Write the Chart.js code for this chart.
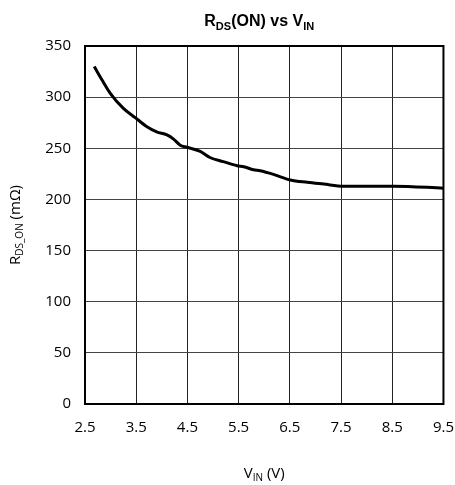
<!DOCTYPE html>
<html>
<head>
<meta charset="utf-8">
<script src="https://cdn.jsdelivr.net/npm/chart.js@4/dist/chart.umd.min.js"></script>
<style>
  html, body { margin: 0; padding: 0; background: #fff; }
  #wrap { width: 455px; height: 485px; }
</style>
</head>
<body>
<div id="wrap"><canvas id="rdsChart"></canvas></div>
<script>
// data
const vin = [2.68, 2.83, 2.99, 3.25, 3.48, 3.71, 3.9, 4.1, 4.23, 4.36, 4.49, 4.75, 4.94, 5.2, 5.47, 5.6, 5.79, 5.92, 6.18, 6.51, 6.84, 7.16, 7.55, 8.14, 8.53, 9.5];
const rds = [330, 317, 304, 289, 280, 271, 266, 263, 259, 253, 251, 247, 241, 237, 233, 232, 229, 228, 224.5, 219, 216.7, 215, 213, 213, 213, 211];
const xTicks = [2.5, 3.5, 4.5, 5.5, 6.5, 7.5, 8.5, 9.5];
const yTicks = [0, 50, 100, 150, 200, 250, 300, 350];

const tickFont = { family: 'Open Sans', size: 15 };

// draws text with subscript runs, parts = [[text, isSub], ...]
function drawRich(ctx, parts, x, y, font, subFont, subDrop) {
    let total = 0;
    parts.forEach(([t, sub]) => {
        ctx.font = sub ? subFont : font;
        total += ctx.measureText(t).width;
    });
    let cx = x - total / 2;
    ctx.textAlign = 'left';
    ctx.textBaseline = 'alphabetic';
    parts.forEach(([t, sub]) => {
        ctx.font = sub ? subFont : font;
        ctx.fillText(t, cx, sub ? y + subDrop : y);
        cx += ctx.measureText(t).width;
    });
}

const decorations = {
    id: 'decorations',
    afterDraw(chart) {
        const { ctx, chartArea: a } = chart;
        ctx.save();
        ctx.fillStyle = '#000';
        // plot frame
        ctx.strokeStyle = '#000';
        ctx.lineWidth = 2;
        ctx.strokeRect(a.left, a.top, a.right - a.left, a.bottom - a.top);

        const midX = (a.left + a.right) / 2;
        drawRich(ctx, [['R', 0], ['DS', 1], ['(ON) vs V', 0], ['IN', 1]], midX - 5, 26,
            'bold 16px "Liberation Sans", Arial', 'bold 11px "Liberation Sans", Arial', 4);

        drawRich(ctx, [['V', 0], ['IN', 1], [' (V)', 0]], midX, 478,
            '15px "Open Sans"', '10px "Open Sans"', 3);

        ctx.translate(20, (a.top + a.bottom) / 2);
        ctx.rotate(-Math.PI / 2);
        drawRich(ctx, [['R', 0], ['DS_ON', 1], [' (m\u03A9)', 0]], 0, 0,
            '15px "Open Sans"', '10px "Open Sans"', 3);
        ctx.restore();
    }
};

new Chart(document.getElementById('rdsChart'), {
    type: 'line',
    data: {
        datasets: [{
            data: vin.map((v, i) => ({ x: v, y: rds[i] })),
            borderColor: '#000',
            borderWidth: 3,
            pointRadius: 0,
            cubicInterpolationMode: 'monotone',
            fill: false
        }]
    },
    options: {
        responsive: true,
        maintainAspectRatio: false,
        animation: false,
        layout: { padding: { top: 46, right: 0, left: 0, bottom: 0 } },
        plugins: { legend: { display: false }, tooltip: { enabled: false } },
        scales: {
            x: {
                type: 'linear',
                min: 2.5,
                max: 9.5,
                afterBuildTicks: s => { s.ticks = xTicks.map(v => ({ value: v })); },
                afterFit: s => { s.height = 81; },
                // invisible tick marks push the labels down without widening the side padding
                grid: { color: '#222', lineWidth: 1, drawTicks: true, tickLength: 14, tickColor: 'rgba(0,0,0,0)' },
                border: { display: false },
                ticks: { font: tickFont, color: '#000', padding: 1, maxRotation: 0, callback: v => v.toFixed(1) }
            },
            y: {
                min: 0,
                max: 350,
                afterBuildTicks: s => { s.ticks = yTicks.map(v => ({ value: v })); },
                afterFit: s => { s.width = 85; },
                grid: { color: '#444', lineWidth: 1, drawTicks: false },
                border: { display: false },
                ticks: { font: tickFont, color: '#000', padding: 14 }
            }
        }
    },
    plugins: [decorations]
});
</script>
</body>
</html>
